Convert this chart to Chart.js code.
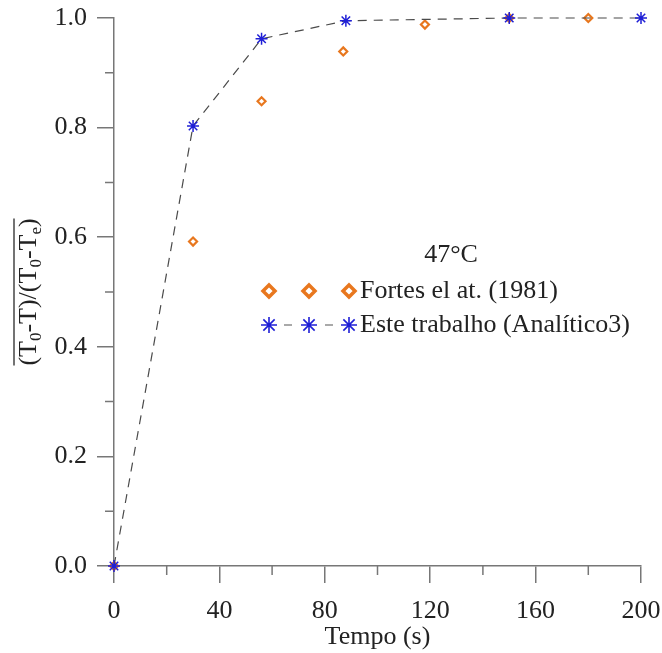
<!DOCTYPE html>
<html>
<head>
<meta charset="utf-8">
<script src="https://cdn.jsdelivr.net/npm/chart.js@4/dist/chart.umd.min.js"></script>
<style>
  html, body { margin: 0; padding: 0; background: #fff; }
  #wrap { width: 662px; height: 653px; position: relative; }
</style>
</head>
<body>
<div id="wrap"><canvas id="c"></canvas></div>
<script>
// ---- data ----
const fortesTime = [0, 30, 56, 87, 118, 150, 180];
const fortesValue = [0, 0.592, 0.848, 0.939, 0.988, 1.0, 1.0];
const modelTime = [0, 30, 56, 88, 150, 200];
const modelValue = [0, 0.803, 0.962, 0.995, 1.0, 1.0];
const xMajorTicks = [0, 40, 80, 120, 160, 200];
const xMinorTicks = [20, 60, 100, 140, 180];
const yMajorTicks = [0, 0.2, 0.4, 0.6, 0.8, 1.0];
const yMinorTicks = [0.1, 0.3, 0.5, 0.7, 0.9];
const legendTitle = '47°C';
const seriesNames = ['Fortes el at. (1981)', 'Este trabalho (Analítico3)'];
const xTitle = 'Tempo (s)';

const FONT = '"Liberation Serif", "Times New Roman", serif';
const AXIS = '#777777';
const ORANGE = '#e8771e';
const BLUE = '#1f1fd6';

const fortesPts = fortesTime.map((t, i) => ({x: t, y: fortesValue[i]}));
const modelPts = modelTime.map((t, i) => ({x: t, y: modelValue[i]}));

const minorTicks = {
  id: 'minorTicks',
  afterDraw(chart) {
    const ctx = chart.ctx, xs = chart.scales.x, ys = chart.scales.y;
    const ca = chart.chartArea;
    ctx.save();
    ctx.strokeStyle = AXIS; ctx.lineWidth = 1.5;
    ctx.beginPath();
    xMinorTicks.forEach(v => { const p = xs.getPixelForValue(v); ctx.moveTo(p, ca.bottom); ctx.lineTo(p, ca.bottom + 9); });
    yMinorTicks.forEach(v => { const p = ys.getPixelForValue(v); ctx.moveTo(ca.left, p); ctx.lineTo(ca.left - 9, p); });
    ctx.stroke();
    ctx.restore();
  }
};

const yTitle = {
  id: 'yTitle',
  afterDraw(chart) {
    const ctx = chart.ctx, ca = chart.chartArea;
    const cy = (ca.top + ca.bottom) / 2;
    const parts = [['(T',0],['0',1],['-T)/(T',0],['0',1],['-T',0],['e',1],[')',0]];
    const big = '26px ' + FONT, small = '17px ' + FONT;
    ctx.save();
    let w = 0;
    parts.forEach(p => { ctx.font = p[1] ? small : big; w += ctx.measureText(p[0]).width; });
    ctx.translate(30, cy);
    ctx.rotate(-Math.PI / 2);
    ctx.fillStyle = '#222';
    ctx.textBaseline = 'alphabetic';
    let x = -w / 2;
    parts.forEach(p => {
      ctx.font = p[1] ? small : big;
      ctx.fillText(p[0], x, p[1] ? 11 : 6);
      x += ctx.measureText(p[0]).width;
    });
    ctx.strokeStyle = '#444'; ctx.lineWidth = 1.5;
    ctx.beginPath(); ctx.moveTo(-w / 2, -16); ctx.lineTo(w / 2, -16); ctx.stroke();
    ctx.restore();
  }
};

function diamond(ctx, x, y, r, lw, color) {
  ctx.save();
  ctx.strokeStyle = color; ctx.lineWidth = lw; ctx.fillStyle = '#fff';
  ctx.beginPath();
  ctx.moveTo(x, y - r); ctx.lineTo(x + r, y); ctx.lineTo(x, y + r); ctx.lineTo(x - r, y); ctx.closePath();
  ctx.fill(); ctx.stroke();
  ctx.restore();
}
function star(ctx, x, y, r, lw, color) {
  ctx.save();
  ctx.strokeStyle = color; ctx.lineWidth = lw;
  ctx.beginPath();
  for (let k = 0; k < 4; k++) {
    const a = k * Math.PI / 4;
    ctx.moveTo(x - r * Math.cos(a), y - r * Math.sin(a));
    ctx.lineTo(x + r * Math.cos(a), y + r * Math.sin(a));
  }
  ctx.stroke();
  ctx.restore();
}

const legendPlugin = {
  id: 'customLegend',
  afterDraw(chart) {
    const ctx = chart.ctx;
    ctx.save();
    ctx.fillStyle = '#222';
    ctx.font = '26px ' + FONT;
    ctx.textBaseline = 'middle';
    ctx.textAlign = 'center';
    ctx.fillText(legendTitle, 451, 255);
    ctx.textAlign = 'left';
    const mx = [269, 309, 349];
    mx.forEach(x => diamond(ctx, x, 291, 6, 3.5, ORANGE));
    ctx.fillText(seriesNames[0], 360, 291);
    ctx.strokeStyle = '#555'; ctx.lineWidth = 1.2;
    ctx.beginPath();
    ctx.moveTo(284, 325); ctx.lineTo(292, 325);
    ctx.moveTo(325, 325); ctx.lineTo(333, 325);
    ctx.stroke();
    mx.forEach(x => star(ctx, x, 325, 8, 1.6, BLUE));
    ctx.fillStyle = '#222';
    ctx.fillText(seriesNames[1], 360, 325);
    ctx.restore();
  }
};

function zeroPad(s) { s.paddingLeft = 0; s.paddingRight = 0; s.paddingTop = 0; s.paddingBottom = 0; }

new Chart(document.getElementById('c'), {
  type: 'scatter',
  data: {
    datasets: [
      {
        label: seriesNames[1],
        data: modelPts,
        showLine: true,
        clip: false,
        borderColor: '#4a4a4a',
        borderWidth: 1.2,
        borderDash: [9, 7],
        pointStyle: 'star',
        pointRadius: 6,
        pointBorderColor: BLUE,
        pointBackgroundColor: BLUE,
        pointBorderWidth: 1.5
      },
      {
        label: seriesNames[0],
        data: fortesPts,
        showLine: false,
        clip: false,
        pointStyle: 'rectRot',
        pointRadius: 4,
        pointBorderColor: ORANGE,
        pointBackgroundColor: '#fff',
        pointBorderWidth: 2.2
      }
    ]
  },
  options: {
    responsive: true,
    maintainAspectRatio: false,
    animation: false,
    layout: { padding: { left: 0, top: 18, right: 21, bottom: 0 } },
    plugins: { legend: { display: false }, tooltip: { enabled: false } },
    scales: {
      x: {
        type: 'linear', min: 0, max: 200,
        afterFit(s) { s.height = 87; zeroPad(s); },
        afterBuildTicks(s) { s.ticks = xMajorTicks.map(v => ({value: v})); },
        ticks: { color: '#222', font: { family: FONT, size: 26 }, padding: 13, maxRotation: 0, callback: v => String(v) },
        grid: { display: true, drawOnChartArea: false, drawTicks: true, tickLength: 17, color: AXIS, lineWidth: 1.5 },
        border: { display: true, color: AXIS, width: 1.5 },
        title: { display: true, text: xTitle, color: '#222', font: { family: FONT, size: 26 }, padding: { top: 0, bottom: 0 } }
      },
      y: {
        type: 'linear', min: 0, max: 1,
        afterFit(s) { s.width = 114; zeroPad(s); },
        afterBuildTicks(s) { s.ticks = yMajorTicks.map(v => ({value: v})); },
        ticks: { color: '#222', font: { family: FONT, size: 26 }, padding: 10, callback: v => Number(v).toFixed(1) },
        grid: { display: true, drawOnChartArea: false, drawTicks: true, tickLength: 17, color: AXIS, lineWidth: 1.5 },
        border: { display: true, color: AXIS, width: 1.5 }
      }
    }
  },
  plugins: [minorTicks, yTitle, legendPlugin]
});
</script>
</body>
</html>
